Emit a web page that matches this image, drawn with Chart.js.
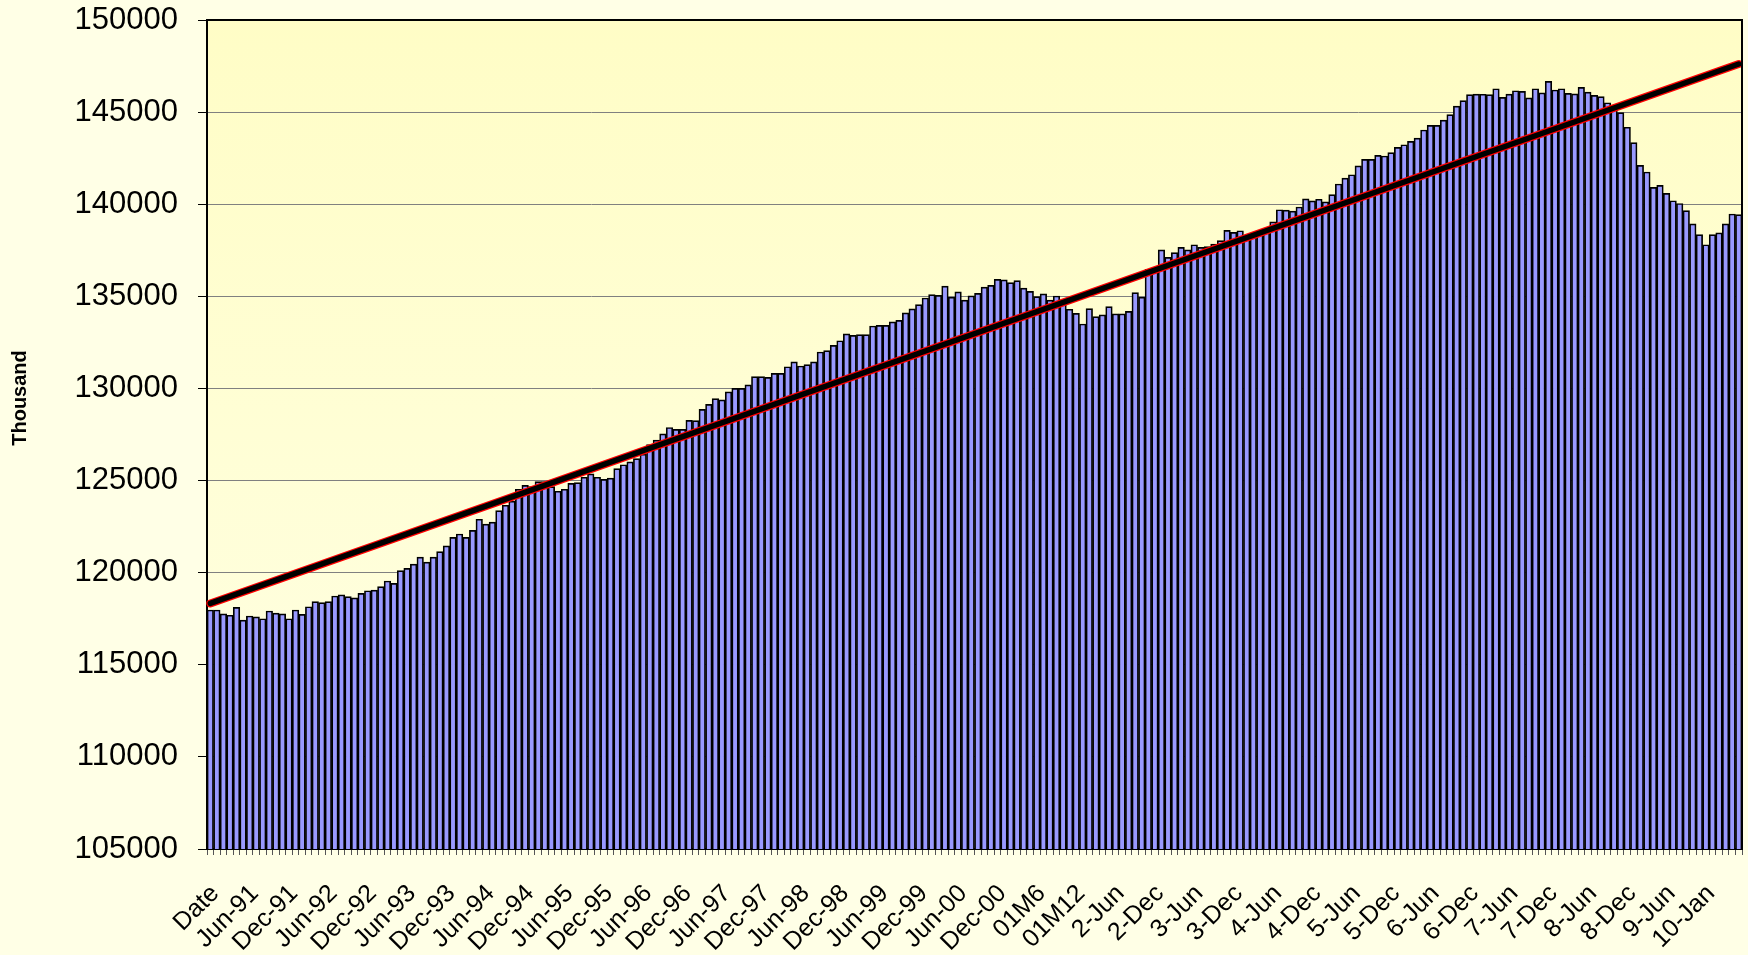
<!DOCTYPE html>
<html>
<head>
<meta charset="utf-8">
<title>Employment</title>
<script src="https://cdn.jsdelivr.net/npm/chart.js@4.4.1/dist/chart.umd.min.js"></script>
<style>
  html, body { margin: 0; padding: 0; background: #FFFFE6; }
  #wrap { width: 1748px; height: 955px; }
</style>
</head>
<body>
<div id="wrap"><canvas id="employmentChart" width="1748" height="955"></canvas></div>
<script>
// labels shown on every 6th bar
const tickLabels = [
  "Date", "Jun-91", "Dec-91", "Jun-92", "Dec-92", "Jun-93", "Dec-93", "Jun-94", "Dec-94",
  "Jun-95", "Dec-95", "Jun-96", "Dec-96", "Jun-97", "Dec-97", "Jun-98", "Dec-98",
  "Jun-99", "Dec-99", "Jun-00", "Dec-00", "01M6", "01M12", "2-Jun", "2-Dec",
  "3-Jun", "3-Dec", "4-Jun", "4-Dec", "5-Jun", "5-Dec", "6-Jun", "6-Dec",
  "7-Jun", "7-Dec", "8-Jun", "8-Dec", "9-Jun", "10-Jan"
];

// monthly values, thousand
const employment = [
  117975, 117975, 117760, 117690, 118120, 117430, 117650, 117600, 117500, 117920, 117800, 117760,
  117500, 117975, 117740, 118150, 118430, 118380, 118430, 118735, 118800, 118700, 118630, 118880,
  119020, 119050, 119240, 119550, 119420, 120110, 120230, 120470, 120840, 120570, 120840, 121140,
  121450, 121920, 122100, 121920, 122300, 122900, 122640, 122750, 123370, 123660, 123880, 124530,
  124740, 124670, 124940, 124940, 124670, 124420, 124530, 124850, 124890, 125180, 125360, 125180,
  125070, 125130, 125650, 125860, 126010, 126190, 126440, 126950, 127200, 127530, 127880, 127780,
  127780, 128270, 128250, 128870, 129140, 129450, 129380, 129820, 130000, 130000, 130190, 130640,
  130640, 130600, 130820, 130820, 131180, 131440, 131220, 131290, 131440, 131980, 132050, 132340,
  132590, 132960, 132880, 132920, 132920, 133390, 133430, 133430, 133610, 133700, 134100, 134320,
  134550, 134910, 135090, 135050, 135560, 134950, 135240, 134800, 135030, 135160, 135500, 135600,
  135920, 135890, 135740, 135850, 135450, 135270, 134980, 135130, 134800, 135020, 134800, 134300,
  134080, 133500, 134330, 133900, 134000, 134440, 134050, 134050, 134190, 135200, 134950, 136470,
  136470, 137520, 137120, 137370, 137660, 137520, 137800, 137660, 137700, 137840, 138020, 138580,
  138470, 138560, 138300, 138250, 138450, 138650, 139040, 139700, 139680, 139630, 139850, 140290,
  140180, 140270, 140130, 140520, 141100, 141420, 141600, 142080, 142440, 142440, 142650, 142620,
  142800, 143090, 143230, 143410, 143590, 144030, 144280, 144280, 144570, 144860, 145330, 145620,
  145950, 145980, 145970, 145950, 146270, 145800, 145980, 146160, 146130, 145770, 146270, 146050,
  146670, 146200, 146270, 146020, 145990, 146340, 146090, 145910, 145840, 145510, 145220, 144970,
  144180, 143340, 142110, 141750, 140920, 141020, 140590, 140190, 140040, 139650, 138930, 138350,
  137800, 138350, 138450, 138930, 139470, 139440
];

// linear trend, value at first and last bar
const trendStart = 118330;
const trendEnd = 147610;

const yMin = 105000;
const yMax = 150000;
const yStep = 5000;

const categories = employment.map((v, i) => (i % 6 === 0 ? tickLabels[i / 6] : ""));
const trendData = employment.map((v, i) => {
  if (i === 0) return trendStart;
  if (i === employment.length - 1) return trendEnd;
  return null;
});

const font = "'Liberation Sans', Arial, sans-serif";

// page + plot area fill, plot frame, axis title
const backdrop = {
  id: "backdrop",
  beforeDraw(chart) {
    const { ctx, chartArea: a } = chart;
    ctx.save();
    ctx.fillStyle = "#FFFFE6";
    ctx.fillRect(0, 0, chart.width, chart.height);
    const g = ctx.createLinearGradient(a.left, a.top, a.left, a.bottom);
    g.addColorStop(0, "#FFFDC6");
    g.addColorStop(1, "#FFFFE4");
    ctx.fillStyle = g;
    ctx.fillRect(a.left, a.top, a.right - a.left, a.bottom - a.top);
    ctx.restore();
  },
  afterDraw(chart) {
    const { ctx, chartArea: a } = chart;
    ctx.save();
    ctx.strokeStyle = "#000";
    ctx.lineWidth = 2;
    ctx.beginPath();
    ctx.moveTo(a.left, a.top);
    ctx.lineTo(a.right, a.top);
    ctx.lineTo(a.right, a.bottom);
    ctx.stroke();
    ctx.translate(20, 398);
    ctx.rotate(-Math.PI / 2);
    ctx.fillStyle = "#000";
    ctx.font = "bold 20px " + font;
    ctx.textAlign = "center";
    ctx.textBaseline = "middle";
    ctx.fillText("Thousand", 0, 0);
    ctx.restore();
  }
};

new Chart(document.getElementById("employmentChart"), {
  type: "bar",
  data: {
    labels: categories,
    datasets: [
      {
        type: "line",
        data: trendData,
        borderColor: "#000",
        borderWidth: 5.5,
        borderCapStyle: "round",
        pointRadius: 0,
        spanGaps: true,
        order: 1
      },
      {
        type: "line",
        data: trendData,
        borderColor: "#FF0000",
        borderWidth: 8,
        borderCapStyle: "round",
        pointRadius: 0,
        spanGaps: true,
        order: 2
      },
      {
        data: employment,
        backgroundColor: "#9999FF",
        borderColor: "#000",
        borderWidth: 1.7,
        borderSkipped: false,
        barPercentage: 1,
        categoryPercentage: 1,
        order: 3
      }
    ]
  },
  options: {
    responsive: false,
    animation: false,
    devicePixelRatio: 1,
    layout: { padding: { top: 20, right: 6, left: 0, bottom: 0 } },
    plugins: {
      legend: { display: false },
      tooltip: { enabled: false }
    },
    scales: {
      x: {
        offset: true,
        grid: { display: true, drawOnChartArea: false, tickLength: 6, color: "#555", offset: true },
        border: { color: "#000", width: 2 },
        ticks: {
          autoSkip: false,
          minRotation: 45,
          maxRotation: 45,
          padding: 24,
          labelOffset: 5,
          color: "#000",
          font: { family: font, size: 25 }
        },
        afterFit: (s) => {
          s.height = 106;
          s.paddingLeft = 0;
          s.paddingRight = 0;
        }
      },
      y: {
        min: yMin,
        max: yMax,
        ticks: {
          stepSize: yStep,
          padding: 20,
          color: "#000",
          font: { family: font, size: 31 },
          callback: (v) => String(v)
        },
        grid: { color: "#808080", lineWidth: 1, tickLength: 9, tickColor: "#000" },
        border: { color: "#000", width: 2 },
        afterFit: (s) => {
          s.width = 207;
          s.paddingTop = 0;
          s.paddingBottom = 0;
        }
      }
    }
  },
  plugins: [backdrop]
});
</script>
</body>
</html>
